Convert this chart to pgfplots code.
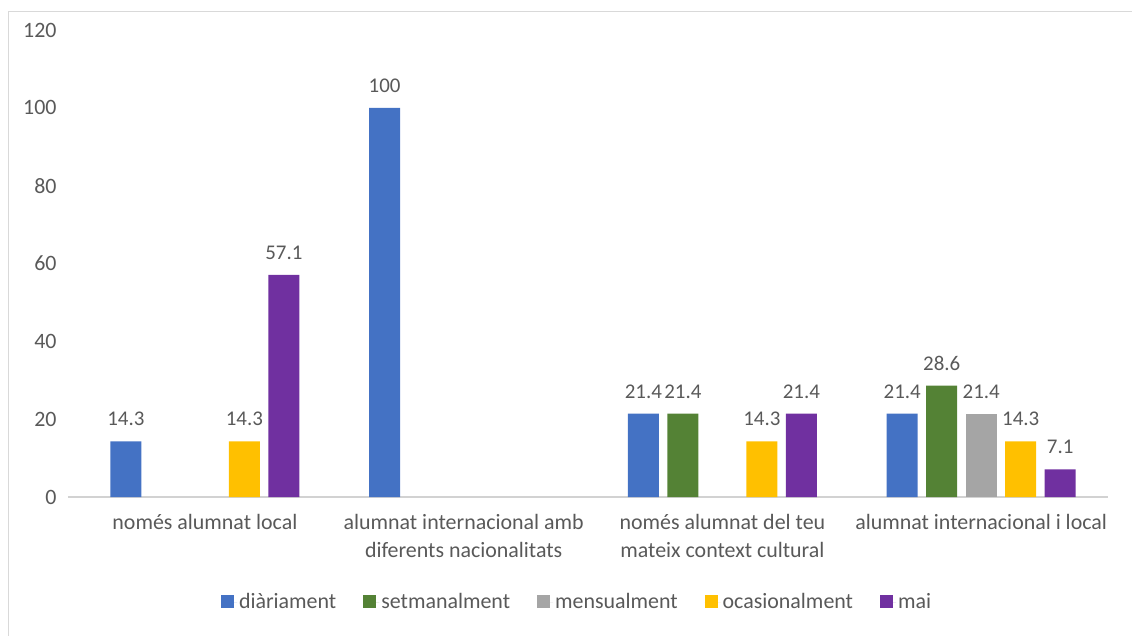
\documentclass[border=0pt]{standalone}
\usepackage{fontspec}
\setmainfont{Carlito}
\usepackage{pgfplots}
\pgfplotsset{compat=1.18}
\definecolor{cblue}{HTML}{4472C4}
\definecolor{cgreen}{HTML}{548235}
\definecolor{cgray}{HTML}{A5A5A5}
\definecolor{cgold}{HTML}{FFC000}
\definecolor{cpurple}{HTML}{7030A0}
\definecolor{tgray}{HTML}{595959}
\begin{document}
\begin{tikzpicture}
\begin{axis}[
  name=ax, at={(0,0)}, anchor=south west,
  scale only axis, width=1040bp, height=467bp,
  xmin=-0.529, xmax=3.49, ymin=0, ymax=120,
  ytick={0,20,...,120},
  xtick={0,1,2,3},
  xticklabels={només alumnat local, {alumnat internacional amb\\diferents nacionalitats}, {només alumnat del teu\\mateix context cultural}, alumnat internacional i local},
  xticklabel style={align=center, font=\fontsize{22}{28}\selectfont, text=tgray, yshift=-14bp},
  yticklabel style={font=\fontsize{22}{26}\selectfont, text=tgray, xshift=-8bp},
  axis x line*=bottom, axis y line*=left,
  y axis line style={draw=none},
  x axis line style={draw=gray!35, line width=1.5pt, -},
  major tick length=0pt,
  /pgf/number format/assume math mode=true,
  ybar, bar width=31bp,
  nodes near coords,
  every node near coord/.append style={font=\fontsize{21}{25}\selectfont, text=tgray, yshift=12bp},
  legend style={at={(0.4895,-0.225)}, anchor=center, draw=none, font=\fontsize{22}{26}\selectfont, text=tgray, /tikz/every even column/.append style={column sep=25bp}},
  legend columns=-1,
  legend image code/.code={\fill[#1] (0bp,-6bp) rectangle (13bp,7bp); \path (0bp,0bp) -- (16bp,0bp);},
  clip=false,
]
\addplot[fill=cblue, draw=none, bar shift=-79bp] coordinates {(0,14.3) (1,100) (2,21.4) (3,21.4)};
\addplot[fill=cgreen, draw=none, bar shift=-39.5bp] coordinates {(2,21.4) (3,28.6)};
\addplot[fill=cgray, draw=none, bar shift=0bp] coordinates {(3,21.4)};
\addplot[fill=cgold, draw=none, bar shift=39.5bp] coordinates {(0,14.3) (2,14.3) (3,14.3)};
\addplot[fill=cpurple, draw=none, bar shift=79bp] coordinates {(0,57.1) (2,21.4) (3,7.1)};
\legend{diàriament, setmanalment, mensualment, ocasionalment, mai}
\end{axis}
\draw[gray!30, line width=1pt] (-60bp,-160bp) rectangle (1090bp,485bp);
\pgfresetboundingbox
\path[use as bounding box] (-68bp,-139bp) rectangle (1064bp,497bp);
\end{tikzpicture}
\end{document}
